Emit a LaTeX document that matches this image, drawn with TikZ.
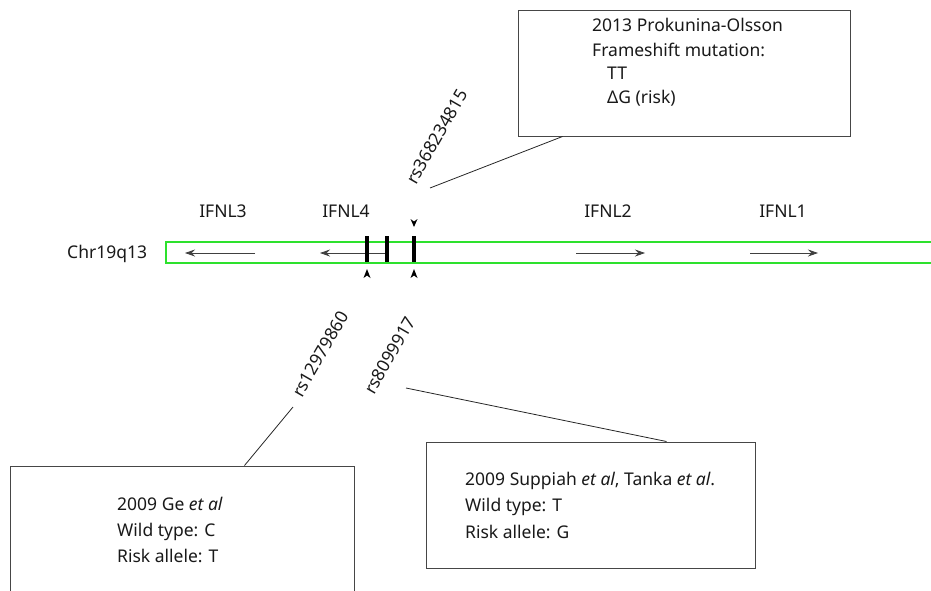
\documentclass[tikz,border=0pt]{standalone}
\usepackage{fontspec}
\setmainfont{Noto Sans}
\usetikzlibrary{arrows.meta}
\definecolor{bandgreen}{RGB}{45,225,45}
\definecolor{boxgray}{RGB}{70,70,70}

\begin{document}
\begin{tikzpicture}[x=1pt, y=-1pt,
  every node/.style={font=\fontsize{17.5}{24}\selectfont, text=black!90, inner sep=0pt},
  infobox/.style={draw=boxgray, line width=1pt},
  lead/.style={black!85, line width=.8pt},
  genearrow/.style={black!75, line width=.8pt, -{Stealth[length=10pt,width=7pt]}},
  snpbar/.style={black, line width=4pt},
  rslabel/.style={rotate=60, anchor=base west}]
  \clip (0,0) rectangle (931,590);

  %Cromosoma
  \node[anchor=base west] (chr) at (67,258.5) {Chr19q13};
  \draw[bandgreen, line width=1.5pt] (940,242) -- (166,242) -- (166,263) -- (940,263);

  %Genes
  \node (ifnl3) at (223,211) {IFNL3};
  \node (ifnl4) at (346,211) {IFNL4};
  \node (ifnl2) at (608,211) {IFNL2};
  \node (ifnl1) at (783,211) {IFNL1};
  \draw[genearrow] (255,253) -- (185,253);
  \draw[genearrow] (387,253) -- (320,253);
  \draw[genearrow] (576,253) -- (645,253);
  \draw[genearrow] (750,253) -- (818,253);

  %SNPs
  \draw[snpbar] (367,236) -- (367,262);
  \draw[snpbar] (387,236) -- (387,262);
  \draw[snpbar] (414,236) -- (414,262);
  \fill (367,269) -- (363.5,278) -- (367,275.5) -- (370.5,278) -- cycle;
  \fill (414,269) -- (410.5,278) -- (414,275.5) -- (417.5,278) -- cycle;
  \fill (414,227) -- (410.5,219) -- (414,221.5) -- (417.5,219) -- cycle;

  %Etiquetas rs
  \node[rslabel] (rsA) at (416,186) {rs368234815};
  \node[rslabel] (rsB) at (302,399) {rs12979860};
  \node[rslabel] (rsC) at (374,396) {rs8099917};
  \coordinate (rsAend) at (430,188);
  \coordinate (rsBend) at (293,407);
  \coordinate (rsCend) at (406,388);

  %Cajas
  \node[infobox, minimum width=332pt, minimum height=126pt] (prokbox) at (684,73) {};
  \node[anchor=base west] (prok1) at (592,31.5) {2013 Prokunina-Olsson};
  \node[anchor=base west] (prok2) at (592,56) {Frameshift mutation:};
  \node[anchor=base west] (prok3) at (607,79.5) {TT};
  \node[anchor=base west] (prok4) at (607,103) {ΔG (risk)};

  \node[infobox, minimum width=344pt, minimum height=200pt] (gebox) at (182,566) {};
  \node[anchor=base west] (ge1) at (117,510) {2009 Ge \textit{et al}};
  \node[anchor=base west] (ge2) at (117,536.5) {Wild type: C};
  \node[anchor=base west] (ge3) at (117,562) {Risk allele: T};

  \node[infobox, minimum width=329pt, minimum height=126pt] (supbox) at (590.5,505) {};
  \node[anchor=base west] (sup1) at (465,485) {2009 Suppiah \textit{et al}, Tanka \textit{et al}.};
  \node[anchor=base west] (sup2) at (465,511.5) {Wild type: T};
  \node[anchor=base west] (sup3) at (465,538) {Risk allele: G};

  %Lineas
  \draw[lead] (rsAend) -- ([xshift=45pt]prokbox.south west);
  \draw[lead] (rsBend) -- ([xshift=235pt]gebox.north west);
  \draw[lead] (rsCend) -- ([xshift=241pt]supbox.north west);
\end{tikzpicture}
\end{document}
